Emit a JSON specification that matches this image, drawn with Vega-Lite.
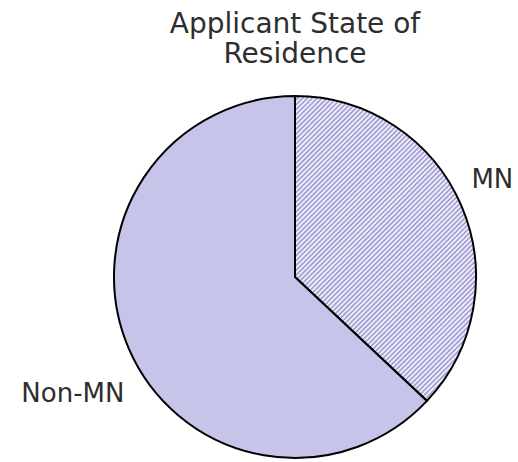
{
  "$schema": "https://vega.github.io/schema/vega-lite/v6.json",
  "width": 362,
  "height": 362,
  "autosize": "none",
  "padding": {"left": 114, "top": 96, "right": 42, "bottom": 4},
  "background": "white",
  "config": {"view": {"stroke": null}},
  "title": {
    "text": ["Applicant State of", "Residence"],
    "font": "DejaVu Sans",
    "fontSize": 28,
    "fontWeight": "normal",
    "color": "#2e2e2e",
    "anchor": "middle",
    "lineHeight": 30,
    "offset": 23
  },
  "data": {
    "values": [
      {"cat": "MN", "value": 37},
      {"cat": "Non-MN", "value": 63}
    ]
  },
  "layer": [
    {
      "mark": {"type": "arc", "radius": 181, "stroke": "black", "strokeWidth": 2},
      "encoding": {
        "theta": {"field": "value", "type": "quantitative", "stack": true},
        "fill": {
          "condition": {
            "test": "datum.cat === 'MN'",
            "value": {
              "gradient": "linear",
              "x1": 0, "y1": 0, "x2": 0.702, "y2": 1.18,
              "stops": [
{"offset":0,"color":"#9490d0"},{"offset":0.005,"color":"#ffffff"},{"offset":0.01,"color":"#9490d0"},{"offset":0.015,"color":"#ffffff"},{"offset":0.02,"color":"#9490d0"},{"offset":0.025,"color":"#ffffff"},{"offset":0.03,"color":"#9490d0"},{"offset":0.035,"color":"#ffffff"},{"offset":0.04,"color":"#9490d0"},{"offset":0.045,"color":"#ffffff"},
{"offset":0.05,"color":"#9490d0"},{"offset":0.055,"color":"#ffffff"},{"offset":0.06,"color":"#9490d0"},{"offset":0.065,"color":"#ffffff"},{"offset":0.07,"color":"#9490d0"},{"offset":0.075,"color":"#ffffff"},{"offset":0.08,"color":"#9490d0"},{"offset":0.085,"color":"#ffffff"},{"offset":0.09,"color":"#9490d0"},{"offset":0.095,"color":"#ffffff"},
{"offset":0.10,"color":"#9490d0"},{"offset":0.105,"color":"#ffffff"},{"offset":0.11,"color":"#9490d0"},{"offset":0.115,"color":"#ffffff"},{"offset":0.12,"color":"#9490d0"},{"offset":0.125,"color":"#ffffff"},{"offset":0.13,"color":"#9490d0"},{"offset":0.135,"color":"#ffffff"},{"offset":0.14,"color":"#9490d0"},{"offset":0.145,"color":"#ffffff"},
{"offset":0.15,"color":"#9490d0"},{"offset":0.155,"color":"#ffffff"},{"offset":0.16,"color":"#9490d0"},{"offset":0.165,"color":"#ffffff"},{"offset":0.17,"color":"#9490d0"},{"offset":0.175,"color":"#ffffff"},{"offset":0.18,"color":"#9490d0"},{"offset":0.185,"color":"#ffffff"},{"offset":0.19,"color":"#9490d0"},{"offset":0.195,"color":"#ffffff"},
{"offset":0.20,"color":"#9490d0"},{"offset":0.205,"color":"#ffffff"},{"offset":0.21,"color":"#9490d0"},{"offset":0.215,"color":"#ffffff"},{"offset":0.22,"color":"#9490d0"},{"offset":0.225,"color":"#ffffff"},{"offset":0.23,"color":"#9490d0"},{"offset":0.235,"color":"#ffffff"},{"offset":0.24,"color":"#9490d0"},{"offset":0.245,"color":"#ffffff"},
{"offset":0.25,"color":"#9490d0"},{"offset":0.255,"color":"#ffffff"},{"offset":0.26,"color":"#9490d0"},{"offset":0.265,"color":"#ffffff"},{"offset":0.27,"color":"#9490d0"},{"offset":0.275,"color":"#ffffff"},{"offset":0.28,"color":"#9490d0"},{"offset":0.285,"color":"#ffffff"},{"offset":0.29,"color":"#9490d0"},{"offset":0.295,"color":"#ffffff"},
{"offset":0.30,"color":"#9490d0"},{"offset":0.305,"color":"#ffffff"},{"offset":0.31,"color":"#9490d0"},{"offset":0.315,"color":"#ffffff"},{"offset":0.32,"color":"#9490d0"},{"offset":0.325,"color":"#ffffff"},{"offset":0.33,"color":"#9490d0"},{"offset":0.335,"color":"#ffffff"},{"offset":0.34,"color":"#9490d0"},{"offset":0.345,"color":"#ffffff"},
{"offset":0.35,"color":"#9490d0"},{"offset":0.355,"color":"#ffffff"},{"offset":0.36,"color":"#9490d0"},{"offset":0.365,"color":"#ffffff"},{"offset":0.37,"color":"#9490d0"},{"offset":0.375,"color":"#ffffff"},{"offset":0.38,"color":"#9490d0"},{"offset":0.385,"color":"#ffffff"},{"offset":0.39,"color":"#9490d0"},{"offset":0.395,"color":"#ffffff"},
{"offset":0.40,"color":"#9490d0"},{"offset":0.405,"color":"#ffffff"},{"offset":0.41,"color":"#9490d0"},{"offset":0.415,"color":"#ffffff"},{"offset":0.42,"color":"#9490d0"},{"offset":0.425,"color":"#ffffff"},{"offset":0.43,"color":"#9490d0"},{"offset":0.435,"color":"#ffffff"},{"offset":0.44,"color":"#9490d0"},{"offset":0.445,"color":"#ffffff"},
{"offset":0.45,"color":"#9490d0"},{"offset":0.455,"color":"#ffffff"},{"offset":0.46,"color":"#9490d0"},{"offset":0.465,"color":"#ffffff"},{"offset":0.47,"color":"#9490d0"},{"offset":0.475,"color":"#ffffff"},{"offset":0.48,"color":"#9490d0"},{"offset":0.485,"color":"#ffffff"},{"offset":0.49,"color":"#9490d0"},{"offset":0.495,"color":"#ffffff"},
{"offset":0.50,"color":"#9490d0"},{"offset":0.505,"color":"#ffffff"},{"offset":0.51,"color":"#9490d0"},{"offset":0.515,"color":"#ffffff"},{"offset":0.52,"color":"#9490d0"},{"offset":0.525,"color":"#ffffff"},{"offset":0.53,"color":"#9490d0"},{"offset":0.535,"color":"#ffffff"},{"offset":0.54,"color":"#9490d0"},{"offset":0.545,"color":"#ffffff"},
{"offset":0.55,"color":"#9490d0"},{"offset":0.555,"color":"#ffffff"},{"offset":0.56,"color":"#9490d0"},{"offset":0.565,"color":"#ffffff"},{"offset":0.57,"color":"#9490d0"},{"offset":0.575,"color":"#ffffff"},{"offset":0.58,"color":"#9490d0"},{"offset":0.585,"color":"#ffffff"},{"offset":0.59,"color":"#9490d0"},{"offset":0.595,"color":"#ffffff"},
{"offset":0.60,"color":"#9490d0"},{"offset":0.605,"color":"#ffffff"},{"offset":0.61,"color":"#9490d0"},{"offset":0.615,"color":"#ffffff"},{"offset":0.62,"color":"#9490d0"},{"offset":0.625,"color":"#ffffff"},{"offset":0.63,"color":"#9490d0"},{"offset":0.635,"color":"#ffffff"},{"offset":0.64,"color":"#9490d0"},{"offset":0.645,"color":"#ffffff"},
{"offset":0.65,"color":"#9490d0"},{"offset":0.655,"color":"#ffffff"},{"offset":0.66,"color":"#9490d0"},{"offset":0.665,"color":"#ffffff"},{"offset":0.67,"color":"#9490d0"},{"offset":0.675,"color":"#ffffff"},{"offset":0.68,"color":"#9490d0"},{"offset":0.685,"color":"#ffffff"},{"offset":0.69,"color":"#9490d0"},{"offset":0.695,"color":"#ffffff"},
{"offset":0.70,"color":"#9490d0"},{"offset":0.705,"color":"#ffffff"},{"offset":0.71,"color":"#9490d0"},{"offset":0.715,"color":"#ffffff"},{"offset":0.72,"color":"#9490d0"},{"offset":0.725,"color":"#ffffff"},{"offset":0.73,"color":"#9490d0"},{"offset":0.735,"color":"#ffffff"},{"offset":0.74,"color":"#9490d0"},{"offset":0.745,"color":"#ffffff"},
{"offset":0.75,"color":"#9490d0"},{"offset":0.755,"color":"#ffffff"},{"offset":0.76,"color":"#9490d0"},{"offset":0.765,"color":"#ffffff"},{"offset":0.77,"color":"#9490d0"},{"offset":0.775,"color":"#ffffff"},{"offset":0.78,"color":"#9490d0"},{"offset":0.785,"color":"#ffffff"},{"offset":0.79,"color":"#9490d0"},{"offset":0.795,"color":"#ffffff"},
{"offset":0.80,"color":"#9490d0"},{"offset":0.805,"color":"#ffffff"},{"offset":0.81,"color":"#9490d0"},{"offset":0.815,"color":"#ffffff"},{"offset":0.82,"color":"#9490d0"},{"offset":0.825,"color":"#ffffff"},{"offset":0.83,"color":"#9490d0"},{"offset":0.835,"color":"#ffffff"},{"offset":0.84,"color":"#9490d0"},{"offset":0.845,"color":"#ffffff"},
{"offset":0.85,"color":"#9490d0"},{"offset":0.855,"color":"#ffffff"},{"offset":0.86,"color":"#9490d0"},{"offset":0.865,"color":"#ffffff"},{"offset":0.87,"color":"#9490d0"},{"offset":0.875,"color":"#ffffff"},{"offset":0.88,"color":"#9490d0"},{"offset":0.885,"color":"#ffffff"},{"offset":0.89,"color":"#9490d0"},{"offset":0.895,"color":"#ffffff"},
{"offset":0.90,"color":"#9490d0"},{"offset":0.905,"color":"#ffffff"},{"offset":0.91,"color":"#9490d0"},{"offset":0.915,"color":"#ffffff"},{"offset":0.92,"color":"#9490d0"},{"offset":0.925,"color":"#ffffff"},{"offset":0.93,"color":"#9490d0"},{"offset":0.935,"color":"#ffffff"},{"offset":0.94,"color":"#9490d0"},{"offset":0.945,"color":"#ffffff"},
{"offset":0.95,"color":"#9490d0"},{"offset":0.955,"color":"#ffffff"},{"offset":0.96,"color":"#9490d0"},{"offset":0.965,"color":"#ffffff"},{"offset":0.97,"color":"#9490d0"},{"offset":0.975,"color":"#ffffff"},{"offset":0.98,"color":"#9490d0"},{"offset":0.985,"color":"#ffffff"},{"offset":0.99,"color":"#9490d0"},{"offset":0.995,"color":"#ffffff"},
{"offset":1,"color":"#9490d0"}
              ]
            }
          },
          "value": "#c6c4e8"
        }
      }
    },
    {
      "mark": {"type": "text", "radius": 215, "font": "DejaVu Sans", "fontSize": 26, "color": "#2e2e2e", "align": "center", "baseline": "alphabetic", "dy": -4},
      "encoding": {
        "theta": {"field": "value", "type": "quantitative", "stack": true},
        "text": {"condition": {"test": "datum.cat === 'MN'", "field": "cat"}, "value": ""}
      }
    },
    {
      "mark": {"type": "text", "radius": 242, "font": "DejaVu Sans", "fontSize": 26, "color": "#2e2e2e", "align": "center", "baseline": "alphabetic", "dy": 29},
      "encoding": {
        "theta": {"field": "value", "type": "quantitative", "stack": true},
        "text": {"condition": {"test": "datum.cat === 'Non-MN'", "field": "cat"}, "value": ""}
      }
    }
  ]
}
